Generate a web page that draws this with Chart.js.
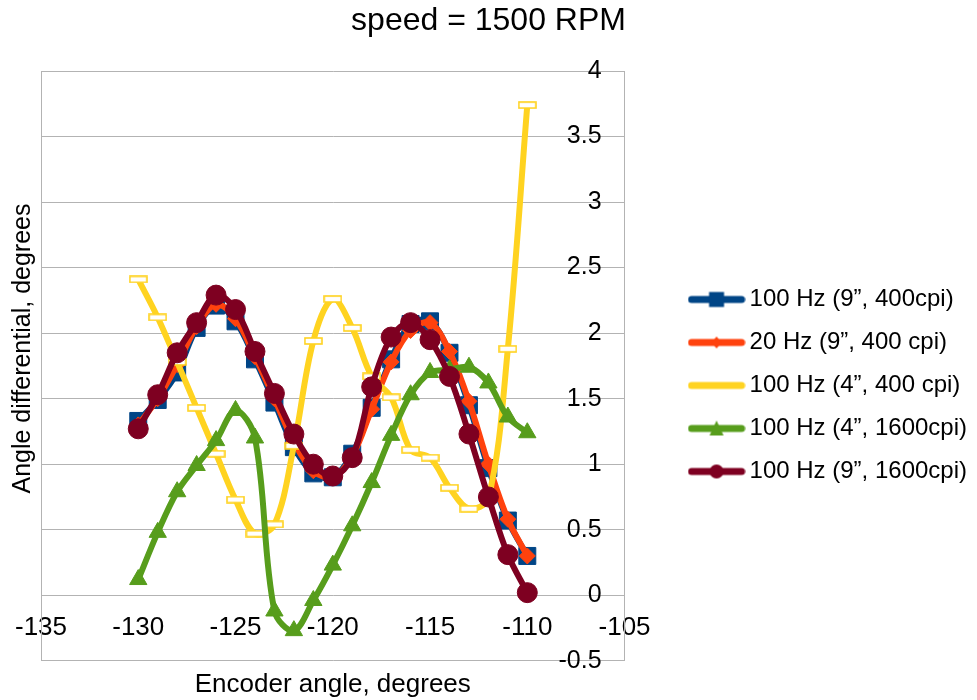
<!DOCTYPE html>
<html>
<head>
<meta charset="utf-8">
<title>speed = 1500 RPM</title>
<script src="https://cdn.jsdelivr.net/npm/chart.js@4/dist/chart.umd.min.js"></script>
<style>
  html, body { margin: 0; background: #fff; }
  #wrap { width: 977px; height: 700px; }
</style>
</head>
<body>
<div id="wrap"><canvas id="speedChart"></canvas></div>
<script>
// encoder angle (degrees) for every sample
const encoderAngles = [-130, -129, -128, -127, -126, -125, -124, -123, -122, -121, -120,
                       -119, -118, -117, -116, -115, -114, -113, -112, -111, -110];

// angle differential (degrees), one list per run
const hz100in9cpi400  = [1.33, 1.49, 1.70, 2.04, 2.21, 2.09, 1.80, 1.47, 1.13, 0.93, 0.90,
                         1.08, 1.43, 1.80, 2.07, 2.09, 1.85, 1.45, 0.97, 0.57, 0.30];
const hz20in9cpi400   = [1.30, 1.50, 1.76, 2.05, 2.22, 2.11, 1.82, 1.50, 1.17, 0.95, 0.90,
                         1.06, 1.42, 1.78, 2.02, 2.08, 1.86, 1.48, 1.00, 0.58, 0.30];
const hz100in4cpi400  = [2.41, 2.12, 1.78, 1.43, 1.08, 0.73, 0.47, 0.54, 1.14, 1.94, 2.26,
                         2.04, 1.67, 1.51, 1.11, 1.05, 0.82, 0.66, 0.74, 1.88, 3.74];
const hz100in4cpi1600 = [0.12, 0.48, 0.79, 0.99, 1.18, 1.41, 1.20, -0.12, -0.27, -0.04, 0.23,
                         0.53, 0.86, 1.22, 1.53, 1.70, 1.72, 1.74, 1.62, 1.36, 1.24];
const hz100in9cpi1600 = [1.27, 1.53, 1.85, 2.08, 2.29, 2.18, 1.86, 1.54, 1.23, 1.00, 0.91,
                         1.05, 1.59, 1.97, 2.08, 1.95, 1.67, 1.23, 0.75, 0.31, 0.02];

const seriesNames = ['100 Hz (9\u201d, 400cpi)', '20 Hz (9\u201d, 400 cpi)', '100 Hz (4\u201d, 400 cpi)',
                     '100 Hz (4\u201d, 1600cpi)', '100 Hz (9\u201d, 1600cpi)'];
const xTicks = [-135, -130, -125, -120, -115, -110, -105];
const yTicks = [-0.5, 0, 0.5, 1, 1.5, 2, 2.5, 3, 3.5, 4];

const colors = ['#004586', '#ff420e', '#ffd320', '#579d1c', '#7e0021'];
const gridGray = '#b3b3b3';
const FONT = "'Liberation Sans', Arial, sans-serif";

// hollow flat rectangle used as the marker of the yellow run
function hollowBar(color) {
    const c = document.createElement('canvas');
    c.width = 19; c.height = 8;
    const g = c.getContext('2d');
    g.fillStyle = '#ffffff';
    g.fillRect(1, 1, 17, 6);
    g.strokeStyle = color;
    g.lineWidth = 1.6;
    g.strokeRect(1, 1, 17, 6);
    return c;
}

// line + marker swatch for the legend
function legendIcon(color, style) {
    const c = document.createElement('canvas');
    c.width = 58; c.height = 18;
    const g = c.getContext('2d');
    g.strokeStyle = color;
    g.fillStyle = color;
    g.lineWidth = 7;
    g.lineCap = 'round';
    g.beginPath(); g.moveTo(4, 9); g.lineTo(54, 9); g.stroke();
    g.beginPath();
    if (style === 'rect') {
        g.fillRect(21.5, 1.5, 15, 15);
    } else if (style === 'rectRot') {
        g.moveTo(29, 3); g.lineTo(34, 9); g.lineTo(29, 15); g.lineTo(24, 9); g.closePath(); g.fill();
    } else if (style === 'triangle') {
        g.moveTo(29, 1); g.lineTo(36, 16); g.lineTo(22, 16); g.closePath(); g.fill();
    } else if (style === 'circle') {
        g.arc(29, 9, 7, 0, Math.PI * 2); g.fill();
    }
    return c;
}

const seriesValues = [hz100in9cpi400, hz20in9cpi400, hz100in4cpi400, hz100in4cpi1600, hz100in9cpi1600];
const pointStyles = ['rect', 'rectRot', hollowBar(colors[2]), 'triangle', 'circle'];
const pointSizes = [12, 8, 9, 10, 10];
const legendStyles = ['rect', 'rectRot', 'none', 'triangle', 'circle'];
const legendIcons = colors.map((col, i) => legendIcon(col, legendStyles[i]));

const datasets = seriesValues.map((vals, i) => ({
    label: seriesNames[i],
    data: encoderAngles.map((x, k) => ({ x: x, y: vals[k] })),
    borderColor: colors[i],
    backgroundColor: colors[i],
    borderWidth: 6,
    tension: 0.35,
    pointStyle: pointStyles[i],
    pointRadius: pointSizes[i],
    pointHoverRadius: pointSizes[i],
    pointBorderWidth: 1,
    pointBorderColor: colors[i],
    pointBackgroundColor: colors[i],
    order: 5 - i
}));

new Chart(document.getElementById('speedChart').getContext('2d'), {
    type: 'line',
    data: { datasets: datasets },
    options: {
        responsive: true,
        maintainAspectRatio: false,
        animation: false,
        layout: { padding: { left: 0, right: 0, top: 0, bottom: 0 } },
        plugins: {
            title: {
                display: true,
                text: 'speed = 1500 RPM',
                color: '#000',
                font: { family: FONT, size: 32, weight: 'normal' },
                padding: { top: 2, bottom: 30.6 }
            },
            legend: {
                position: 'right',
                maxWidth: 400,
                title: { display: true, text: '', font: { size: 12 }, padding: { top: 28, bottom: 28.6 } },
                labels: {
                    color: '#000',
                    font: { family: FONT, size: 24 },
                    usePointStyle: true,
                    pointStyleWidth: 42,
                    padding: 19,
                    sort: (a, b) => a.datasetIndex - b.datasetIndex,
                    generateLabels: function (chart) {
                        const items = Chart.defaults.plugins.legend.labels.generateLabels(chart);
                        items.forEach(it => { it.pointStyle = legendIcons[it.datasetIndex]; });
                        return items;
                    }
                }
            },
            tooltip: { enabled: false }
        },
        scales: {
            x: {
                type: 'linear',
                position: { y: 0 },
                min: -135,
                max: -105,
                afterBuildTicks: s => { s.ticks = xTicks.map(v => ({ value: v })); },
                ticks: { color: '#000', font: { family: FONT, size: 26 }, padding: 9,
                         callback: v => String(v) },
                grid: { display: false },
                border: { display: false }
            },
            x2: {
                type: 'linear',
                position: 'bottom',
                min: -135,
                max: -105,
                ticks: { display: false },
                grid: { display: false, drawTicks: false },
                border: { display: false },
                title: {
                    display: true,
                    text: 'Encoder angle, degrees',
                    color: '#000',
                    font: { family: FONT, size: 26 },
                    padding: { top: 8, bottom: 0 }
                }
            },
            y: {
                type: 'linear',
                position: 'left',
                min: -0.5,
                max: 4,
                afterBuildTicks: s => { s.ticks = yTicks.map(v => ({ value: v })); },
                afterFit: s => { s.width = 41; },
                ticks: { display: false },
                grid: { color: gridGray, lineWidth: 1, drawTicks: false },
                border: { display: true, color: gridGray, width: 1 },
                title: {
                    display: true,
                    text: '     Angle differential, degrees',
                    color: '#000',
                    font: { family: FONT, size: 25 },
                    padding: { top: 8, bottom: 0 }
                }
            },
            y2: {
                type: 'linear',
                position: 'right',
                min: -0.5,
                max: 4,
                afterBuildTicks: s => { s.ticks = yTicks.map(v => ({ value: v })); },
                afterFit: s => { s.width = 52; },
                ticks: { mirror: true, padding: -23, color: '#000', font: { family: FONT, size: 25 },
                         callback: v => String(v) },
                grid: { display: false, drawTicks: false },
                border: { display: true, color: gridGray, width: 1 }
            }
        }
    }
});
</script>
</body>
</html>
